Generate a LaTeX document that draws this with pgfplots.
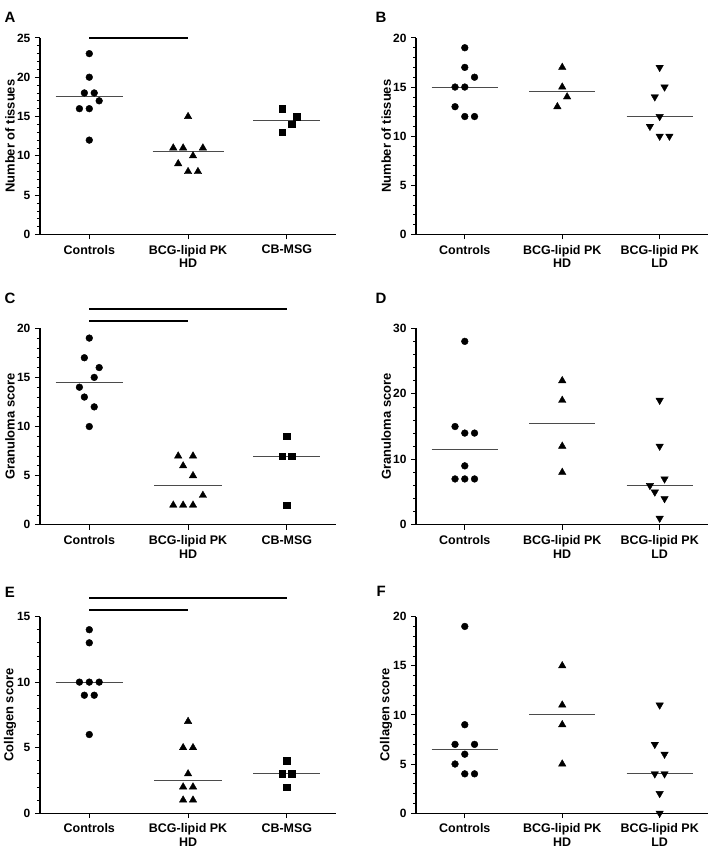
\documentclass[border=0pt]{standalone}
\usepackage{fontspec}
\setmainfont{Liberation Sans}
\usepackage{pgfplots}
\pgfplotsset{compat=1.18}
\definecolor{medgray}{RGB}{75,75,75}
\pgfplotsset{
  panel/.style={
    scale only axis, anchor=south west,
    axis x line*=bottom, axis y line*=left,
    xmin=-0.5, xmax=2.5, xtick={0,1,2}, ymin=0,
    minor y tick num=4, tick align=outside,
    major tick length=5pt, minor tick length=3pt,
    tick style={black, line width=0.9pt},
    minor tick style={black, line width=0.7pt},
    axis line style={black, line width=1.3pt},
    clip=false,
    /pgf/number format/assume math mode=true,
    yticklabel style={font=\bfseries\fontsize{12}{12}\selectfont, xshift=-1pt},
    xticklabel style={font=\bfseries\fontsize{12.5}{14}\selectfont, align=center, anchor=north, yshift=-2pt},
    ylabel style={font=\bfseries\fontsize{13}{13}\selectfont, at={(axis description cs:0,0.5)}, anchor=center, yshift=30pt},
  },
  dots/.style={only marks, mark=*, mark size=3.4pt, black},
  tris/.style={only marks, mark=triangle*, mark size=4.3pt, black},
  dtris/.style={only marks, mark=triangle*, mark size=4.3pt, black, mark options={rotate=180}},
  sqs/.style={only marks, mark=square*, mark size=3.2pt, black},
  med/.style={medgray, line width=1pt, no markers},
  sig/.style={black, line width=2pt, no markers},
}
\begin{document}
\begin{tikzpicture}[x=1pt,y=1pt]
\path (0,0) rectangle (717,850);
% ---------- A ----------
\begin{axis}[panel, at={(40pt,615pt)}, width=297pt, height=197pt, ymax=25, ytick={0,5,10,15,20,25},
  xticklabels={Controls,{BCG-lipid PK\\HD},CB-MSG}, ylabel={Number of tissues}]
\addplot[dots] coordinates {(0,23) (0,20) (-0.05,18) (0.05,18) (0.1,17) (-0.1,16) (0,16) (0,12)};
\addplot[tris] coordinates {(1,15) (0.85,11) (0.95,11) (1.15,11) (1.05,10) (0.9,9) (1,8) (1.1,8)};
\addplot[sqs] coordinates {(1.95,16) (2.1,15) (2.05,14) (1.95,13)};
\addplot[med] coordinates {(-0.34,17.5) (0.34,17.5)};
\addplot[med] coordinates {(0.64,10.5) (1.36,10.5)};
\addplot[med] coordinates {(1.66,14.5) (2.34,14.5)};
\addplot[sig] coordinates {(0,25) (1,25)};
\end{axis}
% ---------- B ----------
\begin{axis}[panel, at={(417pt,615pt)}, width=293pt, height=197pt, ymax=20, ytick={0,5,10,15,20},
  xticklabels={Controls,{BCG-lipid PK\\HD},{BCG-lipid PK\\LD}}, ylabel={Number of tissues}]
\addplot[dots] coordinates {(0,19) (0,17) (0.1,16) (-0.1,15) (0,15) (-0.1,13) (0,12) (0.1,12)};
\addplot[tris] coordinates {(1,17) (1,15) (1.05,14) (0.95,13)};
\addplot[dtris] coordinates {(2,17) (2.05,15) (1.95,14) (2,12) (1.9,11) (2,10) (2.1,10)};
\addplot[med] coordinates {(-0.34,15) (0.34,15)};
\addplot[med] coordinates {(0.66,14.5) (1.34,14.5)};
\addplot[med] coordinates {(1.66,12) (2.34,12)};
\end{axis}
% ---------- C ----------
\begin{axis}[panel, at={(40pt,324pt)}, width=297pt, height=197pt, ymax=20, ytick={0,5,10,15,20},
  xticklabels={Controls,{BCG-lipid PK\\HD},CB-MSG}, ylabel={Granuloma score}]
\addplot[dots] coordinates {(0,19) (-0.05,17) (0.1,16) (0.05,15) (-0.1,14) (-0.05,13) (0.05,12) (0,10)};
\addplot[tris] coordinates {(0.9,7) (1.05,7) (0.95,6) (1.05,5) (1.15,3) (0.85,2) (0.95,2) (1.05,2)};
\addplot[sqs] coordinates {(2,9) (1.95,7) (2.05,7) (2,2)};
\addplot[med] coordinates {(-0.34,14.5) (0.34,14.5)};
\addplot[med] coordinates {(0.66,4) (1.34,4)};
\addplot[med] coordinates {(1.66,7) (2.34,7)};
\addplot[sig] coordinates {(0,20.7) (1,20.7)};
\addplot[sig] coordinates {(0,22) (2,22)};
\end{axis}
% ---------- D ----------
\begin{axis}[panel, at={(417pt,324pt)}, width=293pt, height=197pt, ymax=30, ytick={0,10,20,30},
  xticklabels={Controls,{BCG-lipid PK\\HD},{BCG-lipid PK\\LD}}, ylabel={Granuloma score}]
\addplot[dots] coordinates {(0,28) (-0.1,15) (0,14) (0.1,14) (0,9) (-0.1,7) (0,7) (0.1,7)};
\addplot[tris] coordinates {(1,22) (1,19) (1,12) (1,8)};
\addplot[dtris] coordinates {(2,19) (2,12) (2.05,7) (1.9,6) (1.95,5) (2.05,4) (2,1)};
\addplot[med] coordinates {(-0.34,11.5) (0.34,11.5)};
\addplot[med] coordinates {(0.66,15.5) (1.34,15.5)};
\addplot[med] coordinates {(1.66,6) (2.34,6)};
\end{axis}
% ---------- E ----------
\begin{axis}[panel, at={(40pt,35pt)}, width=297pt, height=197pt, ymax=15, ytick={0,5,10,15},
  xticklabels={Controls,{BCG-lipid PK\\HD},CB-MSG}, ylabel={Collagen score}]
\addplot[dots] coordinates {(0,14) (0,13) (-0.1,10) (0,10) (0.1,10) (-0.05,9) (0.05,9) (0,6)};
\addplot[tris] coordinates {(1,7) (0.95,5) (1.05,5) (1,3) (0.95,2) (1.05,2) (0.95,1) (1.05,1)};
\addplot[sqs] coordinates {(2,4) (1.95,3) (2.05,3) (2,2)};
\addplot[med] coordinates {(-0.34,10) (0.34,10)};
\addplot[med] coordinates {(0.66,2.5) (1.34,2.5)};
\addplot[med] coordinates {(1.66,3) (2.34,3)};
\addplot[sig] coordinates {(0,15.5) (1,15.5)};
\addplot[sig] coordinates {(0,16.45) (2,16.45)};
\end{axis}
% ---------- F ----------
\begin{axis}[panel, at={(417pt,35pt)}, width=293pt, height=197pt, ymax=20, ytick={0,5,10,15,20},
  xticklabels={Controls,{BCG-lipid PK\\HD},{BCG-lipid PK\\LD}}, ylabel={Collagen score}]
\addplot[dots] coordinates {(0,19) (0,9) (-0.1,7) (0.1,7) (0,6) (-0.1,5) (0,4) (0.1,4)};
\addplot[tris] coordinates {(1,15) (1,11) (1,9) (1,5)};
\addplot[dtris] coordinates {(2,11) (1.95,7) (2.05,6) (1.95,4) (2.05,4) (2,2) (2,0)};
\addplot[med] coordinates {(-0.34,6.5) (0.34,6.5)};
\addplot[med] coordinates {(0.66,10) (1.34,10)};
\addplot[med] coordinates {(1.66,4) (2.34,4)};
\end{axis}
% panel letters
\node[font=\bfseries\fontsize{15}{15}\selectfont] at (10,833) {A};
\node[font=\bfseries\fontsize{15}{15}\selectfont] at (382,833) {B};
\node[font=\bfseries\fontsize{15}{15}\selectfont] at (10,551) {C};
\node[font=\bfseries\fontsize{15}{15}\selectfont] at (382,551) {D};
\node[font=\bfseries\fontsize{15}{15}\selectfont] at (10,256) {E};
\node[font=\bfseries\fontsize{15}{15}\selectfont] at (382,257) {F};
\end{tikzpicture}
\end{document}
